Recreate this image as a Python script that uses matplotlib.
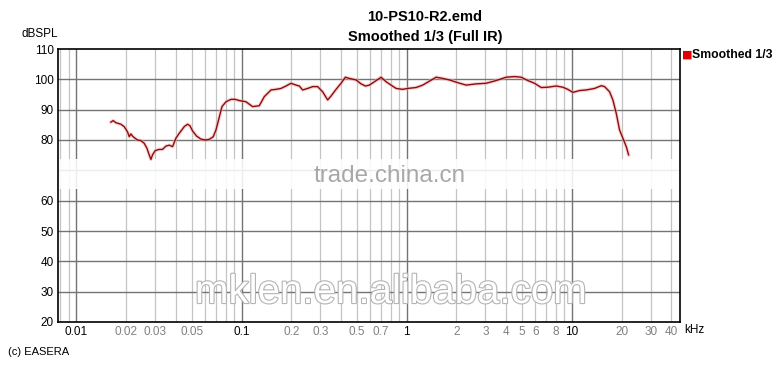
""" Frequency response plot, EASERA style. """

import matplotlib
matplotlib.use("Agg")
import matplotlib.pyplot as plt
import matplotlib.patheffects as pe

# Smoothed 1/3 response (frequency in kHz, level in dBSPL)
freq_khz = [0.01616, 0.01669, 0.01733, 0.01858, 0.01946, 0.02038, 0.02087, 0.02137,
            0.02185, 0.02237, 0.02342, 0.02457, 0.02573, 0.02671, 0.02758, 0.02824,
            0.02888, 0.02999, 0.03171, 0.03321, 0.03482, 0.03646, 0.03818, 0.04003,
            0.04192, 0.04495, 0.04707, 0.04868, 0.05047, 0.05337, 0.05675, 0.06026,
            0.06371, 0.06737, 0.06995, 0.07254, 0.07606, 0.08042, 0.08627, 0.09159,
            0.09685, 0.1063, 0.1166, 0.1280, 0.1373, 0.1508, 0.1616, 0.1733, 0.1858,
            0.1993, 0.2137, 0.2237, 0.2342, 0.2512, 0.2694, 0.2888, 0.3097, 0.3321,
            0.3482, 0.3734, 0.4004, 0.4251, 0.4495, 0.4935, 0.5292, 0.5620, 0.5941,
            0.6371, 0.6995, 0.7502, 0.8042, 0.8627, 0.9457, 1.014, 1.140, 1.250,
            1.373, 1.507, 1.653, 1.815, 2.038, 2.291, 2.634, 3.029, 3.482, 4.004,
            4.495, 4.935, 5.412, 5.941, 6.524, 7.154, 8.044, 8.820, 9.458, 10.14,
            11.14, 12.23, 13.73, 15.07, 15.79, 16.93, 17.73, 18.58, 19.46, 20.38,
            21.37, 22.07]
level_db = [85.9, 86.4, 85.7, 85.2, 84.4, 82.7, 81.1, 82.0,
            81.3, 80.8, 80.0, 79.8, 78.9, 77.3, 75.1, 73.6,
            75.1, 76.5, 76.9, 76.9, 78.0, 78.3, 77.8, 80.6,
            82.2, 84.4, 85.2, 84.7, 83.0, 81.3, 80.3, 80.0,
            80.2, 81.1, 83.3, 86.6, 91.0, 92.6, 93.4, 93.4,
            93.0, 92.6, 91.0, 91.3, 94.3, 96.5, 96.7, 97.0, 97.8,
            98.7, 98.1, 97.8, 96.5, 97.0, 97.6, 97.6, 95.9, 93.2,
            94.5, 96.7, 98.7, 100.7, 100.3, 99.8, 98.5, 97.8, 98.1,
            99.2, 100.7, 99.2, 98.1, 97.0, 96.7, 97.0, 97.3, 98.1,
            99.4, 100.7, 100.3, 99.8, 98.9, 98.1, 98.5, 98.7, 99.6, 100.7,
            100.9, 100.7, 99.6, 98.7, 97.3, 97.4, 97.8, 97.4, 96.7, 95.7,
            96.3, 96.5, 97.0, 97.9, 97.6, 95.9, 93.2, 88.8, 83.3, 80.6,
            77.8, 75.1]

# Axis ticks
y_ticks = [20, 30, 40, 50, 60, 70, 80, 90, 100, 110]
y_labels = ["20", "30", "40", "50", "60", "", "80", "90", "100", "110"]
major_x = [0.01, 0.1, 1, 10]
minor_x = [0.02, 0.03, 0.05, 0.2, 0.3, 0.5, 0.7, 2, 3, 4, 5, 6, 8, 20, 30, 40]
minor_x_labels = ["0.02", "0.03", "0.05", "0.2", "0.3", "0.5", "0.7",
                  "2", "3", "4", "5", "6", "8", "20", "30", "40"]
major_x_labels = ["0.01", "0.1", "1", "10"]

plt.rcParams['font.family'] = ['Liberation Sans', 'DejaVu Sans']

fig = plt.figure(figsize=(7.8, 3.67), dpi=100)
ax = fig.add_axes([58/780, 45/367, 622/780, 273/367])

ax.set_xscale("log")
ax.set_xlim(0.00773, 45.2)
ax.set_ylim(20, 110)

# Vertical grid: every 1..9 per decade light, decades darker
for dec in [0.001, 0.01, 0.1, 1, 10]:
    for k in range(2, 10):
        v = dec * k
        if 0.00773 < v < 45.2:
            ax.axvline(v, color="#c4c4c4", lw=0.9, zorder=1)
for v in major_x:
    ax.axvline(v, color="#747474", lw=1.0, zorder=1)
for v in y_ticks[1:-1]:
    ax.axhline(v, color="#747474", lw=1.0, zorder=1)

# Watermark band across the 70 dB line
ax.axhspan(63.8, 73.6, color="white", alpha=0.88, lw=0, zorder=2)

# The response curve, with a faint halo like the original
ax.plot(freq_khz, level_db, color="#f4b0b0", lw=2.6, alpha=0.55, zorder=3)
ax.plot(freq_khz, level_db, color="#8c0c0c", lw=1.0, zorder=4)

ax.set_yticks(y_ticks)
ax.set_yticklabels(y_labels, fontsize=8.5)
ax.set_xticks(major_x + minor_x)
ax.set_xticklabels(major_x_labels + minor_x_labels, fontsize=8.5)
ax.minorticks_off()
for lbl in ax.get_xticklabels():
    if lbl.get_text() not in major_x_labels:
        lbl.set_color("#808080")
ax.tick_params(length=0, pad=3)
for s in ax.spines.values():
    s.set_color("black")
    s.set_linewidth(1.2)

# Titles and labels
fig.text(425/780, 1 - 17/367, "10-PS10-R2.emd", ha="center", va="center",
         fontsize=10.5, fontweight="bold")
fig.text(425/780, 1 - 37/367, "Smoothed 1/3 (Full IR)", ha="center", va="center",
         fontsize=10.5, fontweight="bold")
fig.text(22/780, 1 - 34/367, "dBSPL", ha="left", va="center", fontsize=8.5)
fig.text(684/780, 1 - 330/367, "kHz", ha="left", va="center", fontsize=8.5)
fig.text(8/780, 1 - 352/367, "(c) EASERA", ha="left", va="center", fontsize=8)

# Legend entry
fig.text(682/780, 1 - 55/367, "\u25A0", ha="left", va="center", fontsize=8,
         color="#e00000", family="DejaVu Sans")
fig.text(692/780, 1 - 55/367, "Smoothed 1/3", ha="left", va="center",
         fontsize=8.8, fontweight="bold")

# Watermarks
fig.text(390/780, 1 - 176/367, "trade.china.cn", ha="center", va="center",
         fontsize=17.5, color="#a8a8a8")
fig.text(391/780, 1 - 292/367, "mklen.en.alibaba.com", ha="center", va="center",
         fontsize=29, color="white",
         path_effects=[pe.withStroke(linewidth=1.6, foreground="#b4b4b4")])

fig.savefig("out.png", dpi=100)
